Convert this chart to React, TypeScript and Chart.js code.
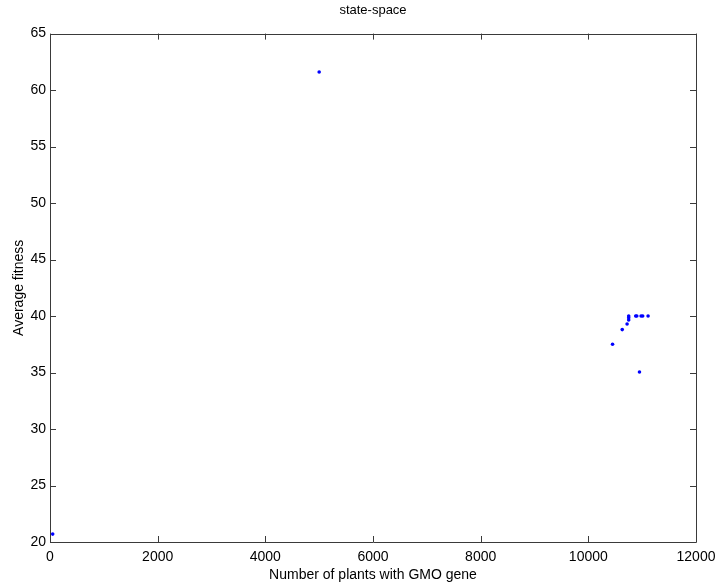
import React, { useEffect, useRef } from "react";
import { Chart, registerables } from "chart.js";

Chart.register(...registerables);

const plantsWithGene = [50, 5000, 10450, 10630, 10720, 10750, 10750, 10750, 10880, 10900, 10980, 11010, 11110, 10950];
const averageFitness = [20.7, 61.6, 37.5, 38.8, 39.3, 39.65, 39.85, 40.0, 40.0, 40.0, 40.0, 40.0, 40.0, 35.05];

const xMin = 0;
const xMax = 12000;
const xStep = 2000;
const yMin = 20;
const yMax = 65;
const yStep = 5;

const titleText = "state-space";
const xTitle = "Number of plants with GMO gene";
const yTitle = "Average fitness";

const FONT = "'Liberation Sans', Arial, sans-serif";

const boxPlugin = {
  id: "matlabBox",
  afterDraw(chart: any) {
    const { ctx, chartArea, scales } = chart;
    const { left, right, top, bottom } = chartArea;
    ctx.save();
    ctx.strokeStyle = "#3a3a3a";
    ctx.lineWidth = 1;
    ctx.beginPath();
    ctx.rect(Math.round(left) + 0.5, Math.round(top) + 0.5, Math.round(right - left), Math.round(bottom - top));
    ctx.stroke();
    const len = 6;
    ctx.beginPath();
    scales.x.ticks.forEach((t: any) => {
      const px = Math.round(scales.x.getPixelForValue(t.value)) + 0.5;
      ctx.moveTo(px, bottom);
      ctx.lineTo(px, bottom - len);
      ctx.moveTo(px, top);
      ctx.lineTo(px, top + len);
    });
    scales.y.ticks.forEach((t: any) => {
      const py = Math.round(scales.y.getPixelForValue(t.value)) + 0.5;
      ctx.moveTo(left, py);
      ctx.lineTo(left + len, py);
      ctx.moveTo(right, py);
      ctx.lineTo(right - len, py);
    });
    ctx.stroke();
    ctx.restore();
  },
};

export default function App() {
  const ref = useRef<HTMLCanvasElement | null>(null);
  useEffect(() => {
    if (!ref.current) return;
    const points = plantsWithGene.map((x, i) => ({ x, y: averageFitness[i] }));
    const chart = new Chart(ref.current, {
      type: "scatter",
      data: {
        datasets: [
          {
            data: points,
            backgroundColor: "#0000ff",
            borderColor: "#0000ff",
            pointRadius: 1.8,
            pointBorderWidth: 0,
            showLine: false,
          },
        ],
      },
      options: {
        responsive: false,
        animation: false,
        layout: { padding: { left: 0, right: 22, top: 0, bottom: 0 } },
        plugins: {
          legend: { display: false },
          tooltip: { enabled: false },
          title: {
            display: true,
            text: titleText,
            fullSize: false,
            color: "#000",
            font: { family: FONT, size: 13, weight: "normal" },
            padding: { top: 3, bottom: 15 },
          },
        },
        scales: {
          x: {
            type: "linear",
            min: xMin,
            max: xMax,
            grid: { display: false, drawTicks: false },
            border: { display: false },
            ticks: {
              stepSize: xStep,
              color: "#000",
              font: { family: FONT, size: 14 },
              padding: 7,
              maxRotation: 0,
              autoSkip: false,
              callback: (v: any) => String(v),
            },
            title: {
              display: true,
              text: xTitle,
              color: "#000",
              font: { family: FONT, size: 14 },
              padding: { top: 0, bottom: 0 },
            },
            afterFit(s: any) {
              s.height = 42;
              s.paddingRight = 0;
              s.paddingLeft = 0;
            },
          },
          y: {
            type: "linear",
            min: yMin,
            max: yMax,
            grid: { display: false, drawTicks: false },
            border: { display: false },
            ticks: {
              stepSize: yStep,
              color: "#000",
              font: { family: FONT, size: 14 },
              padding: 4,
              autoSkip: false,
              callback: (v: any) => String(v),
            },
            title: {
              display: true,
              text: yTitle,
              color: "#000",
              font: { family: FONT, size: 14 },
              padding: { top: 11, bottom: 0 },
            },
            afterFit(s: any) {
              s.width = 50;
              s.paddingTop = 0;
              s.paddingBottom = 0;
            },
          },
        },
      },
      plugins: [boxPlugin],
    } as any);
    return () => chart.destroy();
  }, []);
  return (
    <div style={{ position: "absolute", left: 0, top: 0, width: 718, height: 584, background: "#fff" }}>
      <canvas ref={ref} width={718} height={584} style={{ display: "block" }} />
    </div>
  );
}
